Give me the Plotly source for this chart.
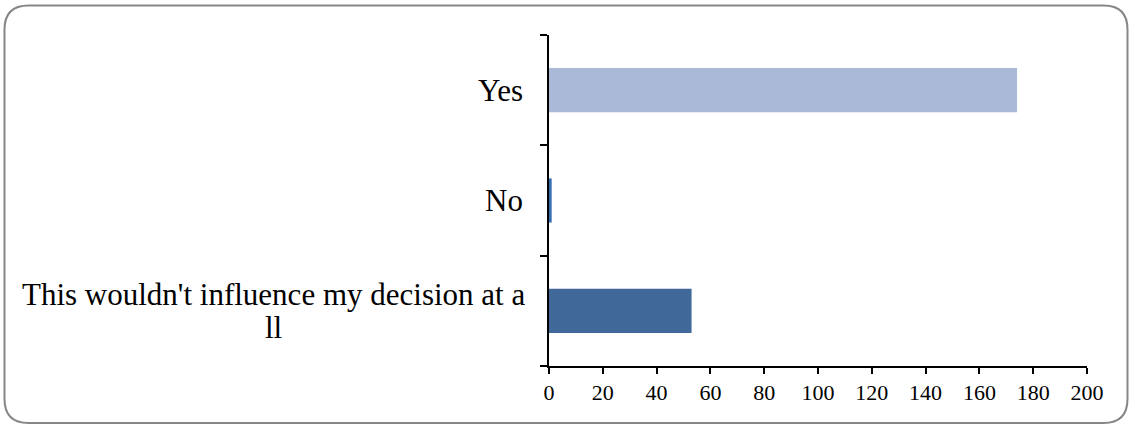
import plotly.graph_objects as go

# data
categories = ["This wouldn't influence my decision at all", "No", "Yes"]
counts = [53, 1, 174]
bar_colors = ["#40699A", "#3A6FAF", "#AAB9D6"]
x_ticks = [0, 20, 40, 60, 80, 100, 120, 140, 160, 180, 200]

W, H = 1131, 425
L, R, T, B = 549, 44, 35, 59
pw, ph = W - L - R, H - T - B

def px(x):
    return (x - L) / pw

def py(y):
    return (H - B - y) / ph

fig = go.Figure()
fig.add_trace(go.Bar(
    y=categories, x=counts, orientation="h",
    marker=dict(color=bar_colors, line=dict(width=0)),
    showlegend=False, hoverinfo="x+y",
))

lab_font = dict(family="Liberation Serif", size=31, color="black")

# short category labels
for cat in ["No", "Yes"]:
    fig.add_annotation(x=0, xref="paper", y=cat, yref="y", text=cat,
                       showarrow=False, xanchor="right", xshift=-24, font=lab_font)

# the long label wraps mid-word in the original; both lines centred
long_cat = categories[0]
fig.add_annotation(x=px(273.5), xref="paper", y=long_cat, yref="y",
                   text="This wouldn't influence my decision at a",
                   showarrow=False, xanchor="center", yshift=16, font=lab_font)
fig.add_annotation(x=px(273.5), xref="paper", y=long_cat, yref="y",
                   text="ll", showarrow=False, xanchor="center", yshift=-17,
                   font=lab_font)

# rounded frame around the whole chart
x0, y0, x1, y1, r = 4.5, 5.5, 1127.5, 423, 24
path = (
    f"M {px(x0 + r)},{py(y0)} L {px(x1 - r)},{py(y0)} "
    f"Q {px(x1)},{py(y0)} {px(x1)},{py(y0 + r)} "
    f"L {px(x1)},{py(y1 - r)} Q {px(x1)},{py(y1)} {px(x1 - r)},{py(y1)} "
    f"L {px(x0 + r)},{py(y1)} Q {px(x0)},{py(y1)} {px(x0)},{py(y1 - r)} "
    f"L {px(x0)},{py(y0 + r)} Q {px(x0)},{py(y0)} {px(x0 + r)},{py(y0)} Z"
)
fig.add_shape(type="path", path=path, xref="paper", yref="paper",
              line=dict(color="#868686", width=2), layer="below")

fig.update_layout(
    width=W, height=H,
    margin=dict(l=L, r=R, t=T, b=B),
    paper_bgcolor="white", plot_bgcolor="white",
    bargap=0.6,
    font=dict(family="Liberation Serif", size=22, color="black"),
    xaxis=dict(
        range=[0, 200], tickvals=x_ticks, showgrid=False, zeroline=False,
        showline=True, linecolor="black", linewidth=1.5,
        ticks="outside", ticklen=6, tickcolor="black", tickwidth=1.5,
        tickfont=dict(family="Liberation Serif", size=22),
    ),
    yaxis=dict(
        categoryorder="array", categoryarray=categories,
        showticklabels=False, showgrid=False, zeroline=False,
        showline=True, linecolor="black", linewidth=1.5,
        ticks="outside", tickson="boundaries", ticklen=7,
        tickcolor="black", tickwidth=1.5,
    ),
)

# page has a default 8px body margin; drop it so the frame sits at the edge
fig.write_html("out.html", config={"displayModeBar": False},
               post_script="document.body.style.margin='0px';")
